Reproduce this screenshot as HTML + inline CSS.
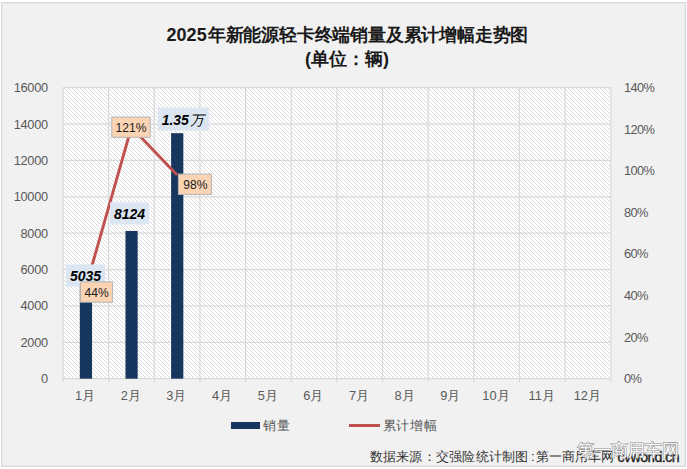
<!DOCTYPE html>
<html><head><meta charset="utf-8"><style>
html,body{margin:0;padding:0;background:#fff;width:687px;height:469px;overflow:hidden}
svg{position:absolute;left:0;top:0;font-family:"Liberation Sans",sans-serif}
</style></head><body>
<svg width="687" height="469" viewBox="0 0 687 469">
<defs>
<pattern id="dots" width="2" height="2" patternUnits="userSpaceOnUse"><rect width="2" height="2" fill="#f2f2f2"/><rect width="1" height="1" fill="#eeeeee"/></pattern>
<pattern id="hatch" width="4" height="4" patternUnits="userSpaceOnUse"><rect width="4" height="4" fill="#ffffff"/><g fill="#dcdcdc" shape-rendering="crispEdges"><rect x="0" y="0" width="1" height="1"/><rect x="1" y="1" width="1" height="1"/><rect x="2" y="2" width="1" height="1"/><rect x="3" y="3" width="1" height="1"/></g></pattern>
</defs>
<rect x="1.5" y="2.5" width="684" height="464" fill="url(#dots)" stroke="#d9d9d9" stroke-width="1"/><rect x="2.5" y="3.5" width="682" height="462" fill="none" stroke="#e8e8e8" stroke-width="1"/>
<text x="166.6" y="41.3" font-size="18" font-weight="bold" fill="#1a1a1a">2025</text><text x="207.8" y="41" font-size="18" letter-spacing="-0.2" font-weight="bold" fill="#1a1a1a">年新能源轻卡终端销量及累计增幅走势图</text>
<text x="347" y="65" text-anchor="middle" font-size="18" font-weight="bold" fill="#1a1a1a">(单位：辆)</text>
<rect x="63.00" y="87.70" width="547.80" height="291.00" fill="url(#hatch)"/>
<g stroke="#d9d9d9" stroke-width="1.2" fill="none"><line x1="63.00" y1="87.70" x2="610.80" y2="87.70"/><line x1="63.00" y1="124.08" x2="610.80" y2="124.08"/><line x1="63.00" y1="160.45" x2="610.80" y2="160.45"/><line x1="63.00" y1="196.82" x2="610.80" y2="196.82"/><line x1="63.00" y1="233.20" x2="610.80" y2="233.20"/><line x1="63.00" y1="269.57" x2="610.80" y2="269.57"/><line x1="63.00" y1="305.95" x2="610.80" y2="305.95"/><line x1="63.00" y1="342.32" x2="610.80" y2="342.32"/><line x1="63.00" y1="378.70" x2="610.80" y2="378.70"/><line x1="63.00" y1="87.70" x2="63.00" y2="378.70"/><line x1="108.65" y1="87.70" x2="108.65" y2="378.70"/><line x1="154.30" y1="87.70" x2="154.30" y2="378.70"/><line x1="199.95" y1="87.70" x2="199.95" y2="378.70"/><line x1="245.60" y1="87.70" x2="245.60" y2="378.70"/><line x1="291.25" y1="87.70" x2="291.25" y2="378.70"/><line x1="336.90" y1="87.70" x2="336.90" y2="378.70"/><line x1="382.55" y1="87.70" x2="382.55" y2="378.70"/><line x1="428.20" y1="87.70" x2="428.20" y2="378.70"/><line x1="473.85" y1="87.70" x2="473.85" y2="378.70"/><line x1="519.50" y1="87.70" x2="519.50" y2="378.70"/><line x1="565.15" y1="87.70" x2="565.15" y2="378.70"/><line x1="610.80" y1="87.70" x2="610.80" y2="378.70"/><line x1="63.00" y1="378.70" x2="63.00" y2="382.20"/><line x1="108.65" y1="378.70" x2="108.65" y2="382.20"/><line x1="154.30" y1="378.70" x2="154.30" y2="382.20"/><line x1="199.95" y1="378.70" x2="199.95" y2="382.20"/><line x1="245.60" y1="378.70" x2="245.60" y2="382.20"/><line x1="291.25" y1="378.70" x2="291.25" y2="382.20"/><line x1="336.90" y1="378.70" x2="336.90" y2="382.20"/><line x1="382.55" y1="378.70" x2="382.55" y2="382.20"/><line x1="428.20" y1="378.70" x2="428.20" y2="382.20"/><line x1="473.85" y1="378.70" x2="473.85" y2="382.20"/><line x1="519.50" y1="378.70" x2="519.50" y2="382.20"/><line x1="565.15" y1="378.70" x2="565.15" y2="382.20"/><line x1="610.80" y1="378.70" x2="610.80" y2="382.20"/></g>
<g fill="#17365d"><rect x="79.83" y="287.13" width="12.2" height="91.57"/><rect x="125.47" y="230.94" width="12.2" height="147.76"/><rect x="171.12" y="133.17" width="12.2" height="245.53"/></g>
<polyline points="85.83,287.24 131.47,127.19 177.12,175.00" fill="none" stroke="#c0504d" stroke-width="2.9" stroke-linejoin="round"/>
<g font-size="12.8" fill="#595959" text-anchor="end" letter-spacing="-0.3"><text x="47.8" y="92.20">16000</text><text x="47.8" y="128.57">14000</text><text x="47.8" y="164.95">12000</text><text x="47.8" y="201.32">10000</text><text x="47.8" y="237.70">8000</text><text x="47.8" y="274.07">6000</text><text x="47.8" y="310.45">4000</text><text x="47.8" y="346.82">2000</text><text x="47.8" y="383.20">0</text></g>
<g font-size="12.8" fill="#595959" letter-spacing="-0.6"><text x="624" y="92.20">140%</text><text x="624" y="133.77">120%</text><text x="624" y="175.34">100%</text><text x="624" y="216.91">80%</text><text x="624" y="258.49">60%</text><text x="624" y="300.06">40%</text><text x="624" y="341.63">20%</text><text x="624" y="383.20">0%</text></g>
<g font-size="12.8" fill="#595959" text-anchor="middle"><text x="85.12" y="399.70">1月</text><text x="130.78" y="399.70">2月</text><text x="176.43" y="399.70">3月</text><text x="222.08" y="399.70">4月</text><text x="267.72" y="399.70">5月</text><text x="313.38" y="399.70">6月</text><text x="359.02" y="399.70">7月</text><text x="404.68" y="399.70">8月</text><text x="450.32" y="399.70">9月</text><text x="495.98" y="399.70">10月</text><text x="541.62" y="399.70">11月</text><text x="587.27" y="399.70">12月</text></g>
<g fill="#dce6f2">
<rect x="66" y="264.4" width="39" height="22.2"/>
<rect x="110" y="202.4" width="39" height="22.1"/>
<rect x="158" y="107.6" width="51" height="23.2"/>
</g>
<g font-size="14" font-weight="bold" font-style="italic" fill="#000" text-anchor="middle">
<text x="85.5" y="280.8">5035</text>
<text x="129.5" y="219">8124</text>
<text x="183" y="125">1.35<tspan font-weight="normal" dx="1.5">万</tspan></text>
</g>
<g fill="#fbd4b4" stroke="#b4b4b4" stroke-width="1">
<rect x="80.4" y="281.9" width="32" height="20.3"/>
<rect x="111.8" y="117.1" width="38.3" height="20.2"/>
<rect x="178.4" y="174.1" width="33" height="20.3"/>
</g>
<g font-size="12.1" fill="#1a1a1a" text-anchor="middle">
<text x="96.6" y="296.6">44%</text>
<text x="131" y="131.7">121%</text>
<text x="195.3" y="189">98%</text>
</g>
<rect x="231" y="422" width="29" height="7" fill="#17365d"/>
<text x="263" y="430" font-size="13" letter-spacing="0.8" fill="#595959">销量</text>
<line x1="349" y1="425.5" x2="380" y2="425.5" stroke="#c0504d" stroke-width="3"/>
<text x="382.5" y="430" font-size="13" letter-spacing="0.8" fill="#595959">累计增幅</text>
<g font-size="13" fill="#333"><text x="369.5" y="460.5" letter-spacing="0.25">数据来源：交强险统计制图</text><text x="531" y="460.5">:</text><text x="536" y="460.5" letter-spacing="0.1">第一商用车网</text><text x="617.5" y="461.5" font-size="14.2" letter-spacing="-0.55" fill="#222" stroke="#222" stroke-width="0.35">cvworld.cn</text></g>
<text x="577" y="455.5" font-size="17" fill="#fff" stroke="#8a8a8a" stroke-width="1.1" paint-order="stroke">第一商用车网</text>
</svg>
</body></html>
